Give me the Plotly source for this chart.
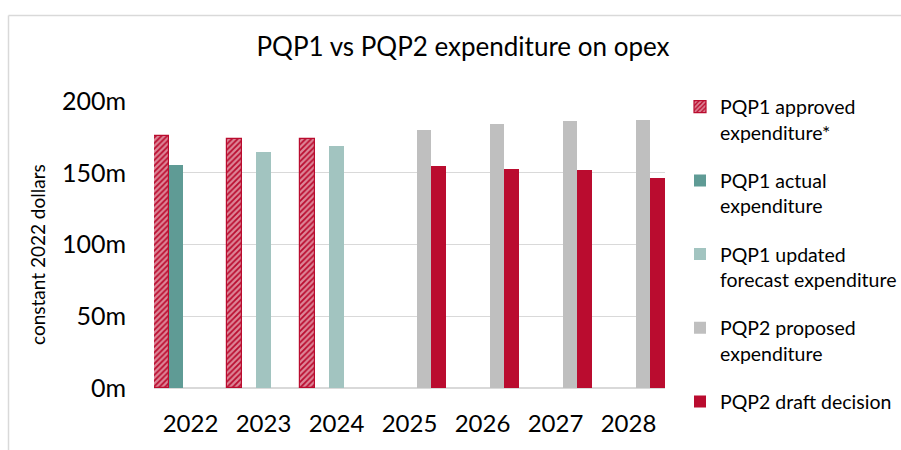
import plotly.graph_objects as go

years = ["2022", "2023", "2024", "2025", "2026", "2027", "2028"]
approved = [175.7, 173.2, 173.2, None, None, None, None]
actual = [155.6, None, None, None, None, None, None]
forecast = [None, 164.6, 168.8, None, None, None, None]
proposed = [None, None, None, 180.0, 184.0, 186.0, 187.0]
draft = [None, None, None, 154.4, 152.5, 151.8, 146.5]

names = [
    "PQP1 approved<br>expenditure*",
    "PQP1 actual<br>expenditure",
    "PQP1 updated<br>forecast expenditure",
    "PQP2 proposed<br>expenditure",
    "PQP2 draft decision",
]
tick_vals = [0, 50, 100, 150, 200]
tick_text = ["0m", "50m", "100m", "150m", "200m"]

RED = "#BA0C2F"
FONT = "Lato"

fig = go.Figure()
fig.add_trace(go.Bar(
    x=years, y=approved, name=names[0], legendgroup="a",
    marker=dict(color=RED, line=dict(color=RED, width=1.2),
                pattern=dict(shape="/", fgcolor="white", bgcolor=RED, size=4, solidity=0.55)),
))
fig.add_trace(go.Bar(x=years, y=actual, name=names[1], legendgroup="b",
                     marker=dict(color="#5F9B95", line=dict(width=0))))
fig.add_trace(go.Bar(x=years, y=forecast, name=names[2], legendgroup="c",
                     marker=dict(color="#A2C4C0", line=dict(width=0))))
fig.add_trace(go.Bar(x=years, y=proposed, name=names[3], legendgroup="d",
                     marker=dict(color="#BFBFBF", line=dict(width=0))))
fig.add_trace(go.Bar(x=years, y=draft, name=names[4], legendgroup="e",
                     marker=dict(color=RED, line=dict(width=0))))

W, H = 901, 450
L, R, T, B = 154, 665, 101, 388

fig.update_layout(
    width=W, height=H,
    margin=dict(l=L, r=W - R, t=T, b=H - B, autoexpand=False),
    paper_bgcolor="white", plot_bgcolor="white",
    barmode="group", bargap=0, bargroupgap=0,
    font=dict(family=FONT, color="#000000"),
    title=dict(text="PQP1 vs PQP2 expenditure on opex", x=463 / W, xanchor="center",
               y=1 - 47 / H, yanchor="middle", font=dict(size=26, family=FONT, color="#000")),
    showlegend=True,
    legend=dict(x=(680 - L) / (R - L), xanchor="left", y=(B - 87.5) / (B - T), yanchor="top",
                font=dict(size=19.5, family=FONT, color="#000"), valign="top",
                tracegroupgap=20, itemwidth=30, bgcolor="rgba(0,0,0,0)",
                traceorder="grouped", maxheight=420),
    xaxis=dict(type="category", showgrid=False, showline=False, ticks="",
               tickfont=dict(size=24, family=FONT, color="#000"), ticklabelstandoff=19),
    yaxis=dict(range=[0, 200], tickvals=tick_vals, ticktext=tick_text,
               showgrid=True, gridcolor="#D9D9D9", gridwidth=1,
               zeroline=True, zerolinecolor="#D9D9D9", zerolinewidth=1.5,
               showline=False, ticks="",
               tickfont=dict(size=25, family=FONT, color="#000"), ticklabelstandoff=27),
)

px = lambda x: (x - L) / (R - L)
py = lambda y: (B - y) / (B - T)

fig.add_annotation(text="constant 2022 dollars", xref="paper", yref="paper",
                   x=px(37), y=py(255), xanchor="center", yanchor="middle",
                   textangle=-90, showarrow=False,
                   font=dict(size=19, family=FONT, color="#000"))

# light chart-area border (top and left edges)
fig.add_shape(type="line", xref="paper", yref="paper", x0=px(8.5), x1=px(905),
              y0=py(15.5), y1=py(15.5), line=dict(color="#D9D9D9", width=1.5))
fig.add_shape(type="line", xref="paper", yref="paper", x0=px(8.5), x1=px(8.5),
              y0=py(15.5), y1=py(460), line=dict(color="#D9D9D9", width=1.5))

fig.write_html("out.html", config={"displayModeBar": False},
               post_script="document.body.style.margin='0';")
